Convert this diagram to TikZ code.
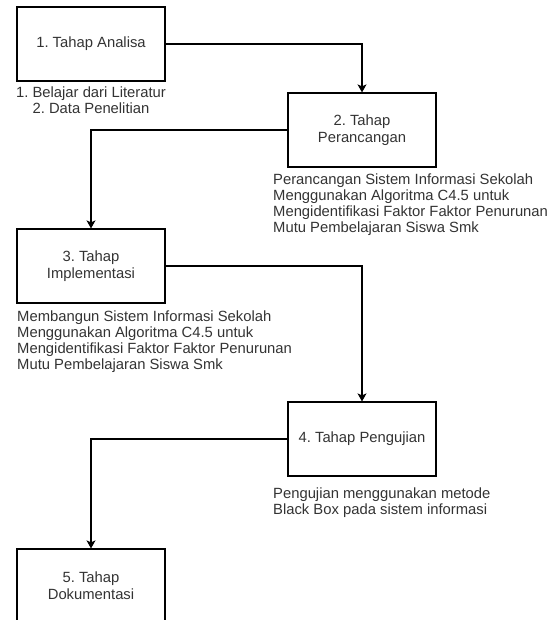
\documentclass[tikz,border=0pt]{standalone}
\usepackage{fontspec}
\setmainfont{Liberation Sans}
\usetikzlibrary{arrows.meta}
\frenchspacing
\begin{document}
\begin{tikzpicture}[x=1pt,y=-1pt,
  tahap/.style={draw=black,line width=1.2pt,minimum width=148pt,minimum height=74pt,
    align=center,inner sep=0pt,text=black!80,font=\fontsize{14.8}{17}\selectfont},
  ket/.style={inner sep=0pt,text=black!80,font=\fontsize{14.8}{16}\selectfont},
  panah/.style={draw=black,line width=1.1pt,-{Stealth[length=8pt,width=9pt,inset=2pt]}}]
        \useasboundingbox (0,0) rectangle (557,620);
        \node [tahap] (analisa) at (91,44) {1. Tahap Analisa};
        \node [tahap] (rancang) at (362,130) {2. Tahap\\Perancangan};
        \node [tahap] (implementasi) at (91,266) {3. Tahap\\Implementasi};
        \node [tahap] (uji) at (362,439) {4. Tahap Pengujian};
        \node [tahap] (dokumentasi) at (91,586) {5. Tahap\\Dokumentasi};
        \node [ket,align=center,anchor=north] (ketanalisa) at (91,87)
          {1. Belajar dari Literatur\\2. Data Penelitian};
        \node [ket,align=left,anchor=north west] (ketrancang) at (273,174)
          {Perancangan Sistem Informasi Sekolah\\Menggunakan Algoritma C4.5 untuk\\
           Mengidentifikasi Faktor Faktor Penurunan\\Mutu Pembelajaran Siswa Smk};
        \node [ket,align=left,anchor=north west] (ketimplementasi) at (17,311)
          {Membangun Sistem Informasi Sekolah\\Menggunakan Algoritma C4.5 untuk\\
           Mengidentifikasi Faktor Faktor Penurunan\\Mutu Pembelajaran Siswa Smk};
        \node [ket,align=left,anchor=north west] (ketuji) at (273,488)
          {Pengujian menggunakan metode\\Black Box pada sistem informasi};
        \draw [panah] (analisa.east) -| (rancang.north);
        \draw [panah] (rancang.west) -| (implementasi.north);
        \draw [panah] (implementasi.east) -| (uji.north);
        \draw [panah] (uji.west) -| (dokumentasi.north);
\end{tikzpicture}
\end{document}
